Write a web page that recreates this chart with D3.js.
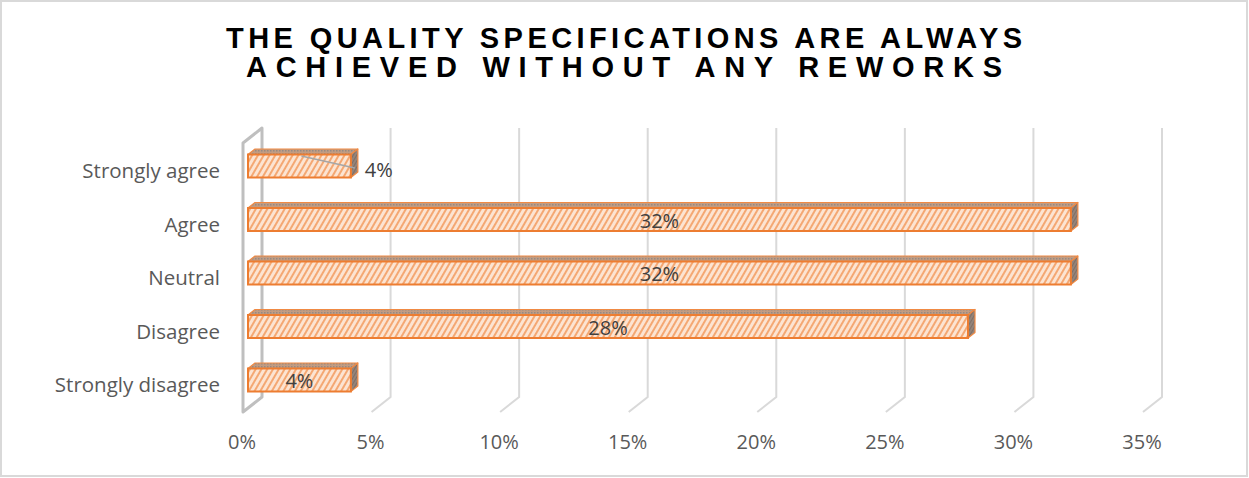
<!DOCTYPE html>
<html>
<head>
<meta charset="utf-8">
<script src="https://cdn.jsdelivr.net/npm/d3@7"></script>
<style>
  html, body { margin: 0; padding: 0; background: #fff; }
  svg { display: block; }
</style>
</head>
<body>
<svg id="chart" width="1249" height="478"></svg>
<script>
const titleLines = ["THE QUALITY SPECIFICATIONS ARE ALWAYS", "ACHIEVED WITHOUT ANY REWORKS"];
const categories = ["Strongly agree", "Agree", "Neutral", "Disagree", "Strongly disagree"];
const values = [4, 32, 32, 28, 4];
const valueLabels = ["4%", "32%", "32%", "28%", "4%"];
const tickValues = [0, 5, 10, 15, 20, 25, 30, 35];
const tickLabels = ["0%", "5%", "10%", "15%", "20%", "25%", "30%", "35%"];

const svg = d3.select("#chart");
const W = 1249, H = 478;
const FONT = "'Open Sans', Lato, sans-serif";

// chart border
svg.append("rect").attr("x", 1).attr("y", 1).attr("width", W - 3).attr("height", H - 3)
  .attr("fill", "#fff").attr("stroke", "#D9D9D9").attr("stroke-width", 2);

// patterns
const defs = svg.append("defs");
const pFront = defs.append("pattern").attr("id", "hatchFront").attr("patternUnits", "userSpaceOnUse")
  .attr("width", 5).attr("height", 5).attr("patternTransform", "rotate(30)");
pFront.append("rect").attr("width", 5).attr("height", 5).attr("fill", "#FCE4D2");
pFront.append("line").attr("x1", 1).attr("y1", 0).attr("x2", 1).attr("y2", 5)
  .attr("stroke", "#F4A168").attr("stroke-width", 1.8);
const pTop = defs.append("pattern").attr("id", "dotTop").attr("patternUnits", "userSpaceOnUse")
  .attr("width", 3).attr("height", 3);
pTop.append("rect").attr("width", 3).attr("height", 3).attr("fill", "#C29C82");
pTop.append("rect").attr("width", 1.5).attr("height", 1.5).attr("fill", "#958A84");
const pSide = defs.append("pattern").attr("id", "hatchSide").attr("patternUnits", "userSpaceOnUse")
  .attr("width", 3).attr("height", 3).attr("patternTransform", "rotate(30)");
pSide.append("rect").attr("width", 3).attr("height", 3).attr("fill", "#7F6E64");
pSide.append("line").attr("x1", 1).attr("y1", 0).attr("x2", 1).attr("y2", 3)
  .attr("stroke", "#A8998F").attr("stroke-width", 1);

// scales (back wall plane)
const x = d3.scaleLinear().domain([0, 35]).range([262, 1162]);
const backTop = 128, backBottom = 397;
const depthDx = -19, depthDy = 15;   // back -> front of floor
const barDx = -14;                   // back -> bar front face plane
const barDepthDx = 7, barDepthDy = -5.5; // bar front -> bar back
const y = d3.scalePoint().domain(categories).range([166, 380]);
const barH = 23;

// grid lines
const grid = svg.append("g");
tickValues.forEach((t, i) => {
  if (i === 0) return;
  const bx = x(t);
  grid.append("path")
    .attr("d", `M${bx},${backTop} L${bx},${backBottom} L${bx + depthDx},${backBottom + depthDy}`)
    .attr("fill", "none").attr("stroke", "#D9D9D9").attr("stroke-width", 2);
});
// left wall
const x0 = x(0);
svg.append("path")
  .attr("d", `M${x0},${backBottom} L${x0},${backTop} L${x0 + depthDx},${backTop + depthDy} L${x0 + depthDx},${backBottom + depthDy} Z`)
  .attr("fill", "none").attr("stroke", "#BFBFBF").attr("stroke-width", 3).attr("stroke-linejoin", "round");

// bars
const bars = svg.append("g");
categories.forEach((c, i) => {
  const v = values[i];
  const fx0 = x(0) + barDx, fx1 = x(v) + barDx;
  const yTop = y(c) - barH / 2, yBot = y(c) + barH / 2;
  bars.append("path")
    .attr("d", `M${fx0},${yTop} L${fx0 + barDepthDx},${yTop + barDepthDy} L${fx1 + barDepthDx},${yTop + barDepthDy} L${fx1},${yTop} Z`)
    .attr("fill", "url(#dotTop)").attr("stroke", "#F08A44").attr("stroke-width", 1.2).attr("stroke-linejoin", "round");
  bars.append("path")
    .attr("d", `M${fx1},${yTop} L${fx1 + barDepthDx},${yTop + barDepthDy} L${fx1 + barDepthDx},${yBot + barDepthDy} L${fx1},${yBot} Z`)
    .attr("fill", "url(#hatchSide)").attr("stroke", "#F08A44").attr("stroke-width", 1.2).attr("stroke-linejoin", "round");
  bars.append("rect")
    .attr("x", fx0).attr("y", yTop).attr("width", fx1 - fx0).attr("height", barH)
    .attr("fill", "url(#hatchFront)").attr("stroke", "#ED7D31").attr("stroke-width", 2);
});

// data labels
const labG = svg.append("g").attr("font-family", FONT)
  .attr("font-size", 20).attr("fill", "#404040");
categories.forEach((c, i) => {
  const v = values[i];
  if (i === 0) {
    const lx = x(v) + barDx + 14;
    svg.append("line")
      .attr("x1", x(v / 2) + barDx + 2).attr("y1", y(c) - 10)
      .attr("x2", x(v) + barDx + 4).attr("y2", y(c) + 2)
      .attr("stroke", "#A6A6A6").attr("stroke-width", 1.5);
    labG.append("text").attr("x", lx).attr("y", y(c) + 11).attr("text-anchor", "start").text(valueLabels[i]);
  } else {
    labG.append("text").attr("x", x(v / 2) + barDx).attr("y", y(c) + 8)
      .attr("text-anchor", "middle").text(valueLabels[i]);
  }
});

// category labels
const catG = svg.append("g").attr("font-family", FONT)
  .attr("font-size", 20.5).attr("fill", "#595959");
categories.forEach(c => {
  catG.append("text").attr("x", 220).attr("y", y(c) + 12).attr("text-anchor", "end").text(c);
});

// x tick labels (front plane)
const tickG = svg.append("g").attr("font-family", FONT)
  .attr("font-size", 20).attr("fill", "#595959");
tickValues.forEach((t, i) => {
  tickG.append("text").attr("x", x(t) + depthDx - 1).attr("y", 449)
    .attr("text-anchor", "middle").text(tickLabels[i]);
});

// title
const titleG = svg.append("g").attr("font-family", "'Liberation Sans Narrow', 'Liberation Sans', Arial, sans-serif")
  .attr("font-weight", "bold").attr("font-size", 29).attr("fill", "#000");
titleG.append("text").attr("x", 226).attr("y", 48).attr("textLength", 796)
  .attr("lengthAdjust", "spacing").text(titleLines[0]);
titleG.append("text").attr("x", 246).attr("y", 77).attr("textLength", 756)
  .attr("lengthAdjust", "spacing").text(titleLines[1]);
</script>
</body>
</html>
